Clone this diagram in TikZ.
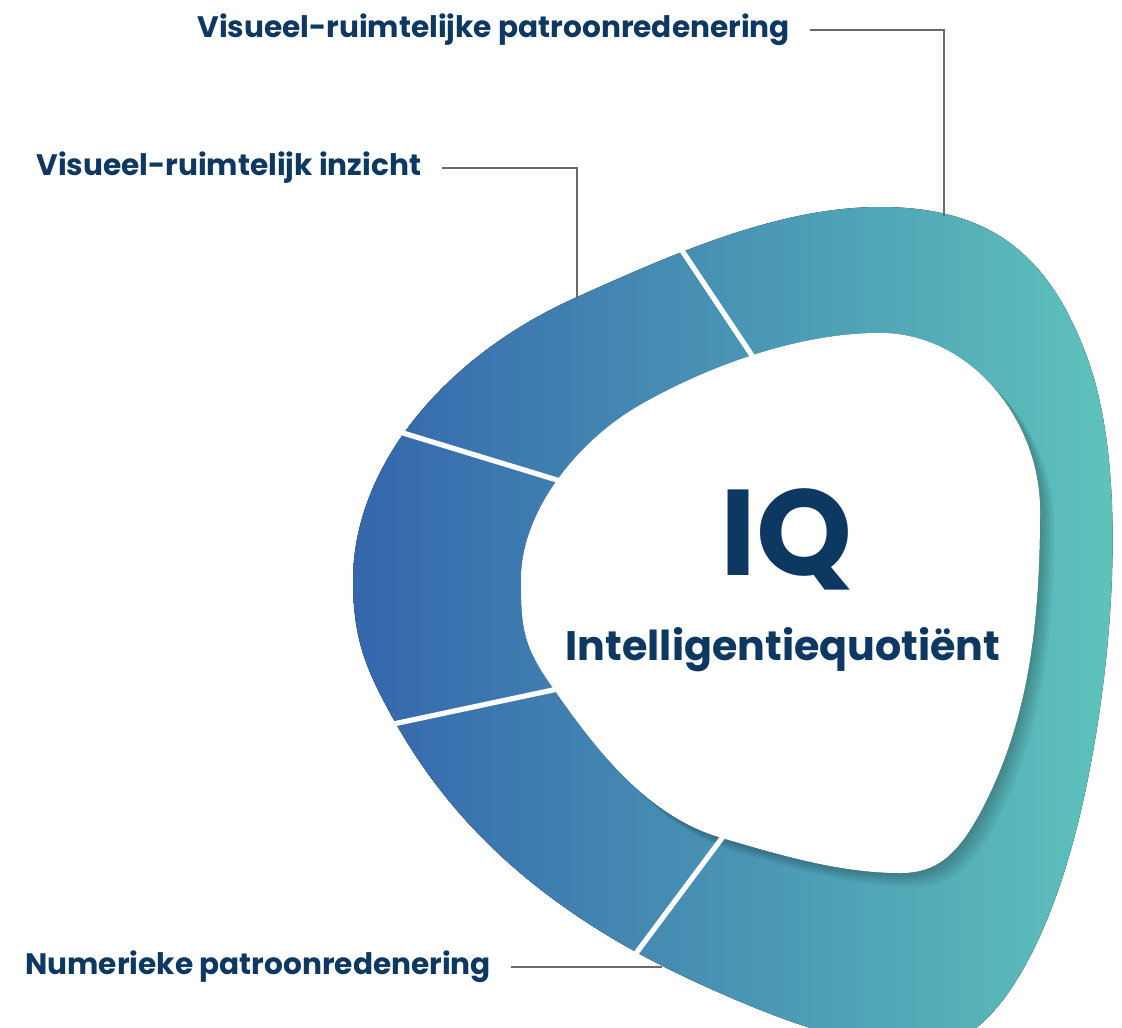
\documentclass[tikz,border=0pt]{standalone}
\usepackage{fontspec}
\setmainfont{Poppins}
\usetikzlibrary{calc}

\definecolor{navy}{HTML}{0C3862}
\definecolor{ringblue}{RGB}{52,102,172}
\definecolor{ringteal}{RGB}{95,197,188}
\definecolor{leadgray}{HTML}{6A6A6A}

% outer and inner edge of the ring, in pixels of the original
\def\outerring{(353,580)
  .. controls (353,470) and (440,358) .. (577,297)
  .. controls (677,252) and (780,207) .. (880,207)
  .. controls (990,207) and (1049,254) .. (1087,357)
  .. controls (1132,479) and (1110,689) .. (1080,815)
  .. controls (1050,941) and (995,1048) .. (925,1048)
  .. controls (855,1048) and (784,1021) .. (720,993)
  .. controls (582,933) and (468,852) .. (395,722)
  .. controls (366,670) and (353,640) .. cycle}
\def\innerring{(521,580)
  .. controls (521,510) and (579,440) .. (640,405)
  .. controls (710,365) and (800,333) .. (880,333)
  .. controls (970,333) and (1040,420) .. (1040,510)
  .. controls (1040,630) and (1027,725) .. (980,813)
  .. controls (956,857) and (935,873) .. (900,873)
  .. controls (840,873) and (780,855) .. (722,838)
  .. controls (645,816) and (593,745) .. (553,688)
  .. controls (524,647) and (521,630) .. cycle}

\begin{document}
\begin{tikzpicture}[x=0.5pt, y=-0.5pt,
    skilltext/.style={font=\bfseries\fontsize{14.8}{16}\selectfont,
        text=navy, inner sep=0pt},
    leader/.style={draw=leadgray, line width=1pt},
    divider/.style={draw=white, line width=2.6pt}]

    \useasboundingbox (0,0) rectangle (1122,1027);
    \clip (0,0) rectangle (1122,1027);

    % ring
    \fill[even odd rule, left color=ringblue, right color=ringteal]
        \outerring \innerring;

    % shadow of the hole on the ring
    \begin{scope}
        \clip \outerring;
        \foreach \s in {2,4,...,14}
            \fill[black, opacity=0.035, xshift=\s*0.5pt, yshift=-\s*0.5pt] \innerring;
        \fill[white] \innerring;
    \end{scope}

    % borders between the parts
    \coordinate (d1o) at (683,252);  \coordinate (d1i) at (755,360);
    \coordinate (d2o) at (403,433);  \coordinate (d2i) at (557,480);
    \coordinate (d3o) at (398,723);  \coordinate (d3i) at (553,690);
    \coordinate (d4o) at (637,952);  \coordinate (d4i) at (722,838);
    \foreach \d in {1,...,4}
        \draw[divider] ($(d\d o)!-0.15!(d\d i)$) -- ($(d\d i)!-0.15!(d\d o)$);

    % centre
    \node[font=\bfseries\fontsize{61}{61}\selectfont, text=navy, inner sep=0pt,
        anchor=base] (iq) at (787,575) {IQ};
    \node[font=\bfseries\fontsize{20.6}{22}\selectfont, text=navy, inner sep=0pt,
        anchor=base] (iqname) at (783,660) {Intelligentiequotiënt};

    % labels
    \node[skilltext, anchor=west] (vrp) at (197,30) {Visueel-ruimtelijke patroonredenering};
    \node[skilltext, anchor=west] (vri) at (36,168) {Visueel-ruimtelijk inzicht};
    \node[skilltext, anchor=west] (nup) at (25,967) {Numerieke patroonredenering};

    \coordinate (vrptip) at (944,216);
    \coordinate (vritip) at (577,298);
    \coordinate (nuptip) at (662,967);

    \draw[leader] ([xshift=10pt]vrp.east) -| (vrptip);
    \draw[leader] ([xshift=10pt]vri.east) -| (vritip);
    \draw[leader] ([xshift=10pt]nup.east) -- (nuptip);

\end{tikzpicture}
\end{document}
